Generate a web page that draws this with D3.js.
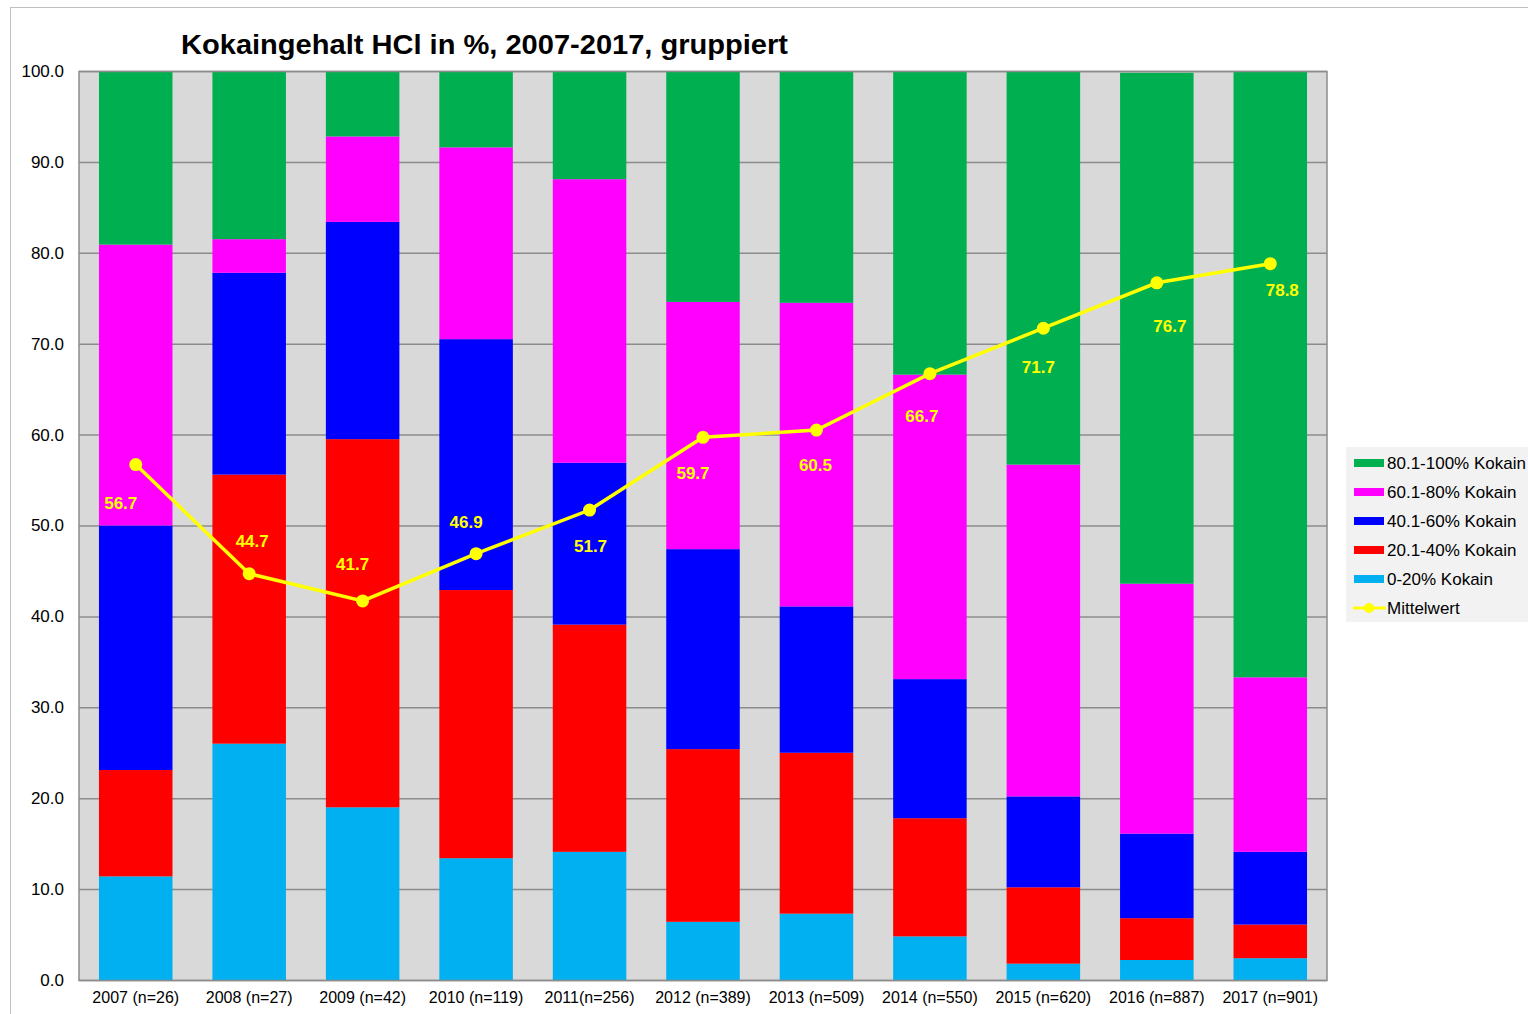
<!DOCTYPE html>
<html>
<head>
<meta charset="utf-8">
<script src="https://cdn.jsdelivr.net/npm/d3@7"></script>
<style>
  body { margin: 0; background: #fff; }
  svg { display: block; font-family: "Liberation Sans", Arial, sans-serif; }
</style>
</head>
<body>
<svg id="chart" width="1528" height="1014"></svg>
<script>
// categories along the x axis
var years = ["2007 (n=26)", "2008 (n=27)", "2009 (n=42)", "2010 (n=119)", "2011(n=256)",
  "2012 (n=389)", "2013 (n=509)", "2014 (n=550)", "2015 (n=620)", "2016 (n=887)", "2017 (n=901)"];

// share of samples per purity group (%), bottom to top
var grp0_20   = [11.4, 26.0, 19.0, 13.4, 14.1, 6.4, 7.3, 4.8, 1.8, 2.2, 2.4];
var grp20_40  = [11.7, 29.6, 40.5, 29.5, 25.0, 19.0, 17.7, 13.0, 8.4, 4.6, 3.7];
var grp40_60  = [26.9, 22.2, 23.9, 27.6, 17.8, 22.0, 16.1, 15.3, 10.0, 9.3, 8.0];
var grp60_80  = [30.9, 3.7, 9.4, 21.1, 31.2, 27.2, 33.4, 33.5, 36.5, 27.5, 19.2];
var grp80_100 = [19.1, 18.5, 7.2, 8.4, 11.9, 25.4, 25.5, 33.4, 43.3, 56.2, 66.7];

// mean purity per year
var mittelwert = [56.7, 44.7, 41.7, 46.9, 51.7, 59.7, 60.5, 66.7, 71.7, 76.7, 78.8];

var yTicks = [0, 10, 20, 30, 40, 50, 60, 70, 80, 90, 100];

var seriesNames = ["0-20% Kokain", "20.1-40% Kokain", "40.1-60% Kokain", "60.1-80% Kokain", "80.1-100% Kokain"];
var seriesColors = ["#00b0f0", "#ff0000", "#0000ff", "#ff00ff", "#00b050"];

// where the mean labels sit relative to the point (px)
var labelOffset = [[-15, 38], [3, -33], [-10, -37], [-10, -32], [1, 36], [-10, 36], [-1, 35], [-8, 42], [-5, 39], [13, 43], [12, 26]];

var svg = d3.select("#chart");
var margin = { left: 79, top: 71, right: 1327, bottom: 980 };

// outer frame (the picture is cropped at right and bottom)
svg.append("rect")
  .attr("x", 10.5).attr("y", 7.5)
  .attr("width", 1600).attr("height", 1100)
  .attr("fill", "none").attr("stroke", "#bfbfbf").attr("stroke-width", 1);

svg.append("text")
  .attr("x", 181).attr("y", 54)
  .attr("font-size", 27).attr("font-weight", "bold")
  .attr("textLength", 607).attr("lengthAdjust", "spacingAndGlyphs")
  .text("Kokaingehalt HCl in %, 2007-2017, gruppiert");

var x = d3.scaleBand().domain(years).range([margin.left, margin.right]).paddingInner(0.352).paddingOuter(0.176);
var y = d3.scaleLinear().domain([0, 100]).range([margin.bottom, margin.top]);

// plot background
svg.append("rect")
  .attr("x", margin.left).attr("y", margin.top)
  .attr("width", margin.right - margin.left).attr("height", margin.bottom - margin.top)
  .attr("fill", "#d9d9d9");

// gridlines
svg.append("g").selectAll("line").data(yTicks).enter().append("line")
  .attr("x1", margin.left).attr("x2", margin.right)
  .attr("y1", function(d) { return y(d) + 0.5; })
  .attr("y2", function(d) { return y(d) + 0.5; })
  .attr("stroke", "#8c8c8c").attr("stroke-width", 1.5);

// stacked bars
var rows = years.map(function(yr, i) {
  return { year: yr, s0: grp0_20[i], s1: grp20_40[i], s2: grp40_60[i], s3: grp60_80[i], s4: grp80_100[i] };
});
var stack = d3.stack().keys(["s0", "s1", "s2", "s3", "s4"]);
var layers = stack(rows);

svg.append("g").selectAll("g").data(layers).enter().append("g")
  .attr("fill", function(d, i) { return seriesColors[i]; })
  .selectAll("rect").data(function(d) { return d; }).enter().append("rect")
  .attr("x", function(d) { return x(d.data.year); })
  .attr("width", x.bandwidth())
  .attr("y", function(d) { return y(d[1]); })
  .attr("height", function(d) { return y(d[0]) - y(d[1]); });

// plot border
svg.append("rect")
  .attr("x", margin.left).attr("y", margin.top + 0.5)
  .attr("width", margin.right - margin.left).attr("height", margin.bottom - margin.top)
  .attr("fill", "none").attr("stroke", "#8c8c8c").attr("stroke-width", 1.5);

// y axis labels
var yAxis = svg.append("g")
  .attr("transform", "translate(" + margin.left + ",0)")
  .call(d3.axisLeft(y).tickValues(yTicks).tickFormat(d3.format(".1f")).tickSize(0).tickPadding(15));
yAxis.select(".domain").remove();
yAxis.selectAll("text").attr("font-size", 17).attr("fill", "#000").attr("font-family", "Liberation Sans, Arial, sans-serif");

// x axis labels
var xAxis = svg.append("g")
  .attr("transform", "translate(0," + margin.bottom + ")")
  .call(d3.axisBottom(x).tickSize(0).tickPadding(12));
xAxis.select(".domain").remove();
xAxis.selectAll("text").attr("font-size", 16).attr("fill", "#000").attr("font-family", "Liberation Sans, Arial, sans-serif");

// mean line
var cx = function(d, i) { return x(years[i]) + x.bandwidth() / 2; };
var line = d3.line().x(cx).y(function(d) { return y(d); });

svg.append("path").datum(mittelwert)
  .attr("d", line)
  .attr("fill", "none").attr("stroke", "#ffff00").attr("stroke-width", 3.5);

svg.append("g").selectAll("circle").data(mittelwert).enter().append("circle")
  .attr("cx", cx).attr("cy", function(d) { return y(d); })
  .attr("r", 6.5).attr("fill", "#ffff00");

svg.append("g").selectAll("text").data(mittelwert).enter().append("text")
  .attr("x", function(d, i) { return cx(d, i) + labelOffset[i][0]; })
  .attr("y", function(d, i) { return y(d) + labelOffset[i][1]; })
  .attr("text-anchor", "middle").attr("dy", "0.35em")
  .attr("font-size", 17).attr("font-weight", "bold").attr("fill", "#ffff00")
  .text(function(d) { return d3.format(".1f")(d); });

// legend
var legend = svg.append("g").attr("transform", "translate(1346,447)");
legend.append("rect").attr("width", 200).attr("height", 175).attr("fill", "#f2f2f2");

var legendItems = seriesNames.map(function(n, i) { return { name: n, color: seriesColors[i] }; }).reverse();
legendItems.push({ name: "Mittelwert", color: "#ffff00", line: true });

var li = legend.selectAll("g.item").data(legendItems).enter().append("g")
  .attr("class", "item")
  .attr("transform", function(d, i) { return "translate(0," + (16 + i * 29) + ")"; });

li.filter(function(d) { return !d.line; }).append("rect")
  .attr("x", 8).attr("y", -4).attr("width", 30).attr("height", 8)
  .attr("fill", function(d) { return d.color; });

li.filter(function(d) { return d.line; }).append("line")
  .attr("x1", 7).attr("x2", 40).attr("y1", 0).attr("y2", 0)
  .attr("stroke", "#ffff00").attr("stroke-width", 3);
li.filter(function(d) { return d.line; }).append("circle")
  .attr("cx", 23).attr("cy", 0).attr("r", 5).attr("fill", "#ffff00");

li.append("text")
  .attr("x", 41).attr("dy", "0.35em")
  .attr("font-size", 17).attr("fill", "#000")
  .text(function(d) { return d.name; });
</script>
</body>
</html>
